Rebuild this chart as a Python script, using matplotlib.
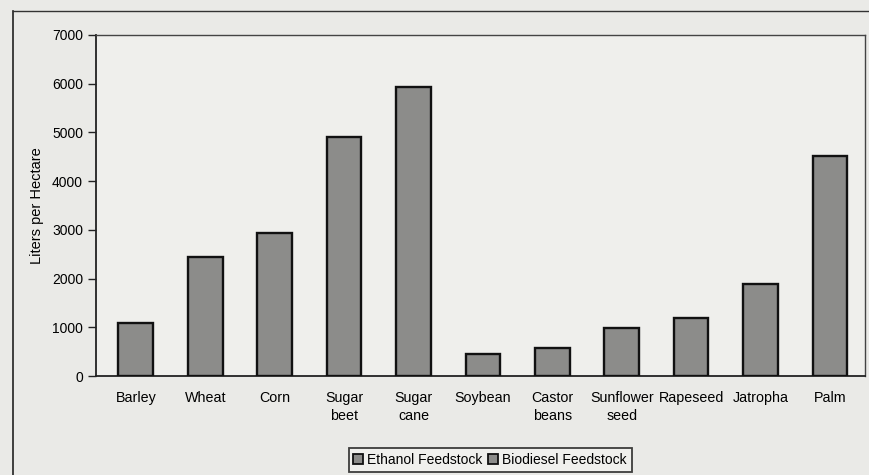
import matplotlib
matplotlib.use("Agg")
import matplotlib.pyplot as plt
from matplotlib.patches import Patch
from matplotlib.lines import Line2D

plt.rcParams['font.family'] = ['Liberation Sans', 'DejaVu Sans']

# Fuel yield per hectare by feedstock
crops = ["Barley", "Wheat", "Corn", "Sugar\nbeet", "Sugar\ncane", "Soybean",
         "Castor\nbeans", "Sunflower\nseed", "Rapeseed", "Jatropha", "Palm"]
liters_per_hectare = [1080, 2450, 2940, 4910, 5930, 460, 580, 990, 1200, 1890, 4520]
yticks = [0, 1000, 2000, 3000, 4000, 5000, 6000, 7000]
legend_labels = ["Ethanol Feedstock", "Biodiesel Feedstock"]

paper = "#eaeae7"
bar_gray = "#8c8c8a"

fig = plt.figure(figsize=(8.69, 4.75), dpi=100, facecolor=paper)
ax = fig.add_axes([0.110, 0.2084, 0.885, 0.718])
ax.set_facecolor("#efefec")

x = range(len(crops))
ax.bar(x, liters_per_hectare, width=0.5, color=bar_gray,
       edgecolor="#111111", linewidth=1.7, zorder=3)

ax.set_xlim(-0.58, len(crops) - 0.5)
ax.set_ylim(0, 7000)
ax.set_yticks(yticks)
ax.set_yticklabels([str(v) for v in yticks], fontsize=10)
ax.set_xticks(list(x))
ax.set_xticklabels(crops, fontsize=10.3, linespacing=1.35, va="top")
ax.tick_params(axis="x", length=0, pad=11)
ax.tick_params(axis="y", length=6, width=1, pad=3, color="#222222")
ax.set_ylabel("Liters per Hectare", fontsize=10.5, labelpad=6)

for side in ["left", "bottom"]:
    ax.spines[side].set_linewidth(1.3)
    ax.spines[side].set_color("#222222")
for side in ["top", "right"]:
    ax.spines[side].set_linewidth(1.0)
    ax.spines[side].set_color("#444444")

# Outer chart frame
fig.add_artist(Line2D([0.0155, 0.0155], [0.0, 0.977], transform=fig.transFigure,
                      color="#222222", linewidth=1.2))
fig.add_artist(Line2D([0.0155, 1.0], [0.977, 0.977], transform=fig.transFigure,
                      color="#333333", linewidth=1.0))

handles = [Patch(facecolor=bar_gray, edgecolor="#111111", linewidth=1.3) for _ in legend_labels]
leg = fig.legend(handles, legend_labels, loc="center", bbox_to_anchor=(0.564, 0.032),
                 ncol=2, fontsize=10, frameon=True, fancybox=False,
                 handlelength=0.7, handleheight=0.7, handletextpad=0.3,
                 columnspacing=0.4, borderpad=0.35, borderaxespad=0)
leg.get_frame().set_edgecolor("#111111")
leg.get_frame().set_linewidth(1.3)
leg.get_frame().set_facecolor("#f2f2ef")

fig.savefig("out.png", dpi=100, facecolor=paper)
